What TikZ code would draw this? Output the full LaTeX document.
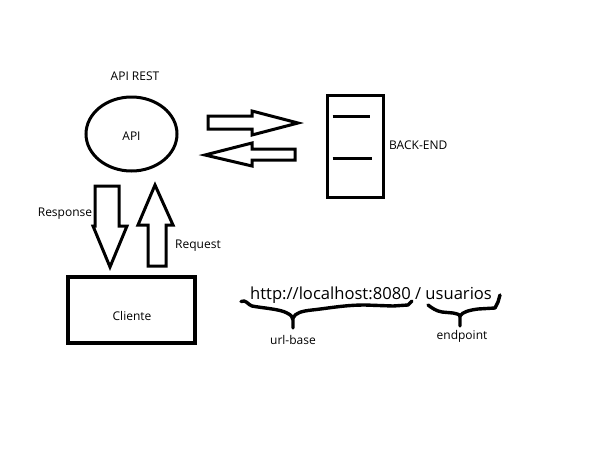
\documentclass[tikz,border=0pt]{standalone}
\usepackage{fontspec}
\setmainfont{Open Sans}
\usetikzlibrary{shapes.geometric}
\tikzset{
  thickline/.style={line width=3pt},
  lbl/.style={font=\fontsize{12}{14}\selectfont, inner sep=0pt},
  blockarrow/.style={draw, line width=3pt, line join=miter, fill=white},
  bracepath/.style={draw, line width=3.4pt, line join=round, line cap=round},
}
\begin{document}
\begin{tikzpicture}[x=1pt,y=-1pt]
\useasboundingbox[fill=white] (0,0) rectangle (593,466);
% main shapes
\node[ellipse, draw, thickline, minimum width=91pt, minimum height=74pt, inner sep=0pt] (api) at (131.5,134) {};
\node[lbl] (apitext) at (131.5,136) {API};
\node[lbl] (apirest) at (135,76) {API REST};
\node[rectangle, draw, thickline, minimum width=56pt, minimum height=102pt] (be) at (355,146) {};
\draw[thickline] ([xshift=7pt,yshift=-23pt]be.north west) -- ([xshift=44pt,yshift=-23pt]be.north west);
\draw[thickline] ([xshift=7pt,yshift=-65pt]be.north west) -- ([xshift=46pt,yshift=-65pt]be.north west);
\node[lbl, anchor=west] (belabel) at (389,145) {BACK-END};
\node[rectangle, draw, line width=3.5pt, minimum width=127pt, minimum height=66pt] (cli) at (131.5,310) {};
\node[lbl] (clitext) at (132,315.5) {Cliente};
% block arrows
\draw[blockarrow] (208,116) -- (252,116) -- (252,111) -- (298,123) -- (252,135) -- (252,129) -- (208,129) -- cycle;
\draw[blockarrow] (205,155) -- (252,143) -- (252,149) -- (295,149) -- (295,160) -- (252,160) -- (252,166) -- cycle;
\draw[blockarrow] (95,186) -- (119,186) -- (119,226) -- (127,226) -- (110,267) -- (93,226) -- (95,226) -- cycle;
\draw[blockarrow] (155,185) -- (173,225) -- (166,225) -- (166,266) -- (148,266) -- (148,225) -- (138,225) -- cycle;
\node[lbl] (resp) at (65,214) {Response};
\node[lbl] (req) at (198,246) {Request};
% url
\node[font=\fontsize{16.6}{19}\selectfont, inner sep=0pt] (url) at (371,295) {http://localhost:8080 / usuarios};
\draw[bracepath] (241,301.5) .. controls (246,299) and (248,305) .. (252,306)
  .. controls (262,308) and (280,309) .. (287,313) .. controls (291,315) and (293,317) .. (293,320) -- (293,328);
\draw[bracepath] (293,318) .. controls (295,313) and (302,311) .. (312,310)
  .. controls (330,308) and (345,305) .. (365,305) -- (393,306) -- (408,305) -- (412,301);
\draw[bracepath] (428,305) .. controls (432,308) and (436,311) .. (442,312) -- (453,313)
  .. controls (457,314) and (460,314) .. (460,317) -- (460,326);
\draw[bracepath] (460,316) .. controls (462,312) and (470,310) .. (478,309) -- (495,308) -- (498,302) -- (500,295);
\node[lbl] (urlbase) at (293,340) {url-base};
\node[lbl] (endp) at (462,336) {endpoint};
\end{tikzpicture}
\end{document}
